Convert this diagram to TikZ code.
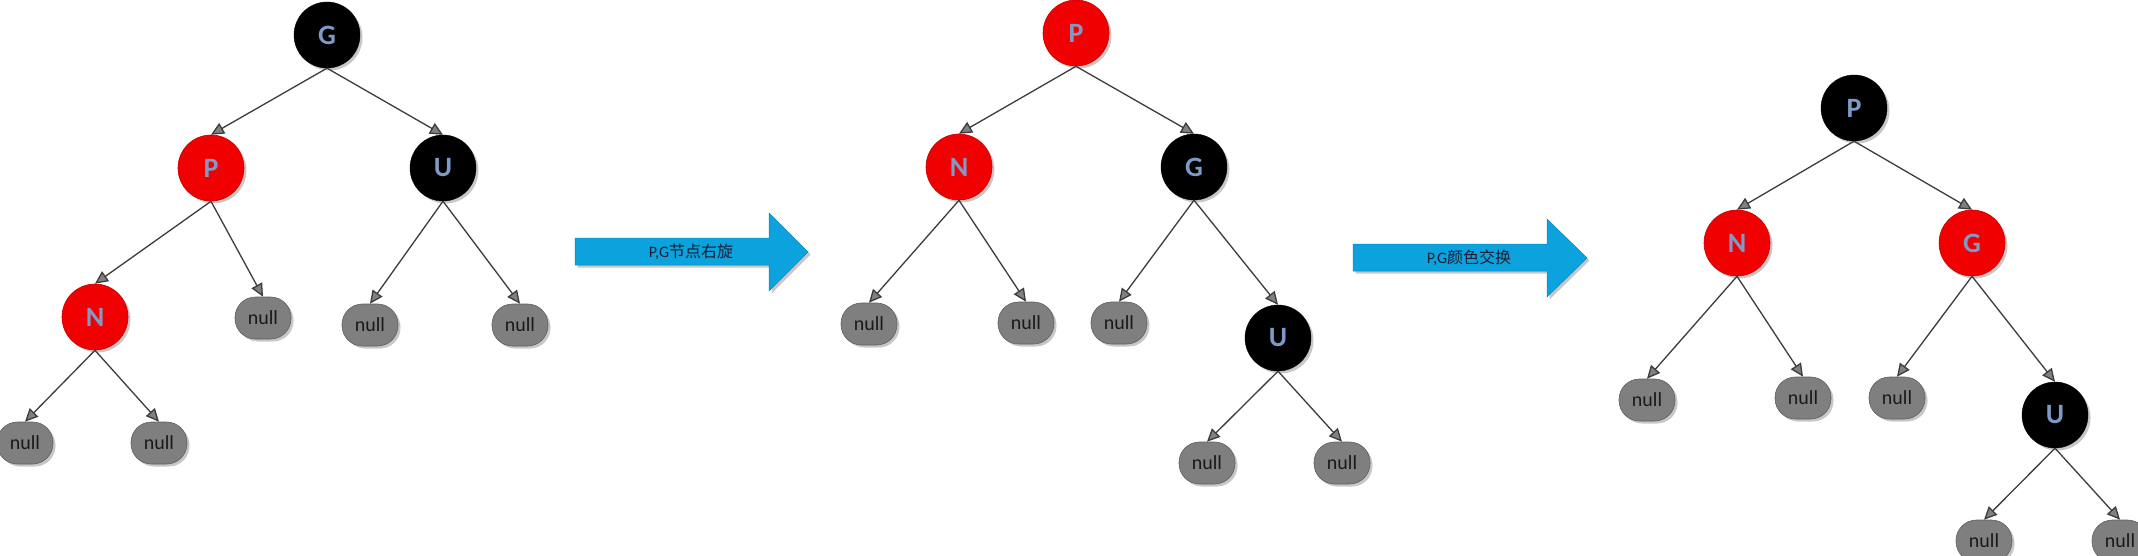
\documentclass[tikz,border=0pt]{standalone}
\usepackage{fontspec}
\setmainfont{Carlito}
\newfontfamily\cjk{Noto Sans CJK SC}
\usetikzlibrary{arrows.meta,shadows}
\definecolor{nodered}{RGB}{240,0,0}
\definecolor{letterblue}{RGB}{126,154,200}
\definecolor{nullgray}{RGB}{127,127,127}
\definecolor{edgecol}{RGB}{60,60,60}
\definecolor{tipgray}{RGB}{128,128,128}
\definecolor{arrowblue}{RGB}{12,162,222}
\definecolor{arrowtextcol}{RGB}{30,30,50}
\begin{document}
\begin{tikzpicture}[x=1pt,y=-1pt,
  shad/.style={drop shadow={shadow xshift=2.5pt,shadow yshift=-2.5pt,opacity=0.22,fill=black}},
  rb/.style={circle,minimum size=66pt,inner sep=0pt,shad,
    font=\fontsize{28}{28}\selectfont\bfseries,text=letterblue},
  rnode/.style={rb,fill=nodered,draw=nodered!85!black,line width=0.6pt},
  bnode/.style={rb,fill=black,draw=black},
  nullnode/.style={rectangle,rounded corners=20.5pt,minimum width=56pt,minimum height=42pt,
    inner sep=0pt,fill=nullgray,draw=nullgray!75!black,line width=0.6pt,shad,
    font=\fontsize{20}{20}\selectfont,text=black!90},
  edge/.style={draw=edgecol,line width=1.3pt,
    -{Triangle[length=13pt,width=12pt,fill=tipgray]}},
  blockarrow/.style={fill=arrowblue,draw=arrowblue!85!black,line width=0.5pt,shad},
  arrowtext/.style={font=\fontsize{16}{16}\selectfont,text=arrowtextcol,inner sep=0pt}
]
\clip (0,0) rectangle (2138,556);
\fill[white] (0,0) rectangle (2138,556);

% ---------- tree 1 ----------
\node[bnode] (G1) at (327,35) {G};
\node[rnode] (P1) at (211,168) {P};
\node[bnode] (U1) at (443,168) {U};
\node[rnode] (N1) at (95,317) {N};
\node[nullnode] (n1a) at (263,318) {null};
\node[nullnode] (n1b) at (370,325) {null};
\node[nullnode] (n1c) at (520,325) {null};
\node[nullnode] (n1d) at (25,443) {null};
\node[nullnode] (n1e) at (159,443) {null};
\draw[edge] (G1.south) -- (P1.north);
\draw[edge] (G1.south) -- (U1.north);
\draw[edge] (P1.south) -- (N1.north);
\draw[edge] (P1.south) -- (n1a.north);
\draw[edge] (U1.south) -- (n1b.north);
\draw[edge] (U1.south) -- (n1c.north);
\draw[edge] (N1.south) -- (n1d.north);
\draw[edge] (N1.south) -- (n1e.north);

% ---------- arrow 1 ----------
\path[blockarrow] (575,238) -- (769,238) -- (769,213) -- (808,252) -- (769,291) -- (769,265) -- (575,265) -- cycle;
\node[arrowtext] (t1) at (691,252) {P,G{\cjk 节点右旋}};

% ---------- tree 2 ----------
\node[rnode] (P2) at (1076,33) {P};
\node[rnode] (N2) at (959,167) {N};
\node[bnode] (G2) at (1194,167) {G};
\node[nullnode] (n2a) at (869,324) {null};
\node[nullnode] (n2b) at (1026,323) {null};
\node[nullnode] (n2c) at (1119,323) {null};
\node[bnode] (U2) at (1278,338) {U};
\node[nullnode] (n2d) at (1207,463) {null};
\node[nullnode] (n2e) at (1342,463) {null};
\draw[edge] (P2.south) -- (N2.north);
\draw[edge] (P2.south) -- (G2.north);
\draw[edge] (N2.south) -- (n2a.north);
\draw[edge] (N2.south) -- (n2b.north);
\draw[edge] (G2.south) -- (n2c.north);
\draw[edge] (G2.south) -- (U2.north);
\draw[edge] (U2.south) -- (n2d.north);
\draw[edge] (U2.south) -- (n2e.north);

% ---------- arrow 2 ----------
\path[blockarrow] (1353,244) -- (1547,244) -- (1547,219) -- (1587,258) -- (1547,297) -- (1547,271) -- (1353,271) -- cycle;
\node[arrowtext] (t2) at (1469,258) {P,G{\cjk 颜色交换}};

% ---------- tree 3 ----------
\node[bnode] (P3) at (1854,108) {P};
\node[rnode] (N3) at (1737,243) {N};
\node[rnode] (G3) at (1972,243) {G};
\node[nullnode] (n3a) at (1647,400) {null};
\node[nullnode] (n3b) at (1803,398) {null};
\node[nullnode] (n3c) at (1897,398) {null};
\node[bnode] (U3) at (2055,415) {U};
\node[nullnode] (n3d) at (1984,541) {null};
\node[nullnode] (n3e) at (2120,541) {null};
\draw[edge] (P3.south) -- (N3.north);
\draw[edge] (P3.south) -- (G3.north);
\draw[edge] (N3.south) -- (n3a.north);
\draw[edge] (N3.south) -- (n3b.north);
\draw[edge] (G3.south) -- (n3c.north);
\draw[edge] (G3.south) -- (U3.north);
\draw[edge] (U3.south) -- (n3d.north);
\draw[edge] (U3.south) -- (n3e.north);
\end{tikzpicture}
\end{document}
